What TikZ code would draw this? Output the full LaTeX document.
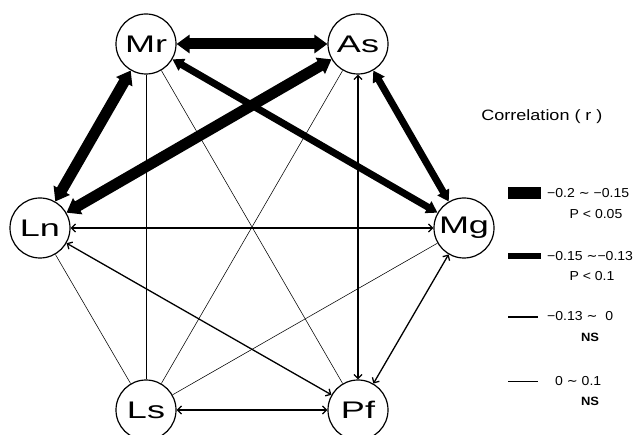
\documentclass[tikz,border=0pt]{standalone}
\usepackage{fontspec}
\setmainfont{Liberation Sans}
\newfontfamily\nodefont[FakeStretch=1.5]{Liberation Sans}
\newfontfamily\legfont[FakeStretch=1.2]{Liberation Sans}
\newfontfamily\numfont[FakeStretch=1.08]{Liberation Sans}
\newfontfamily\tildefont{DejaVu Sans}
\newcommand\tld{{\tildefont ∼}}
\usetikzlibrary{arrows.meta}
\begin{document}
\begin{tikzpicture}[x=1pt,y=-1pt,
  var/.style={circle,draw,line width=1.2pt,minimum size=60pt,inner sep=0pt,font=\nodefont\fontsize{24}{24}\selectfont},
  thickE/.style={line width=11pt,{Triangle[length=13pt,width=18pt]}-{Triangle[length=13pt,width=18pt]}},
  medE/.style={line width=7pt,{Triangle[length=11pt,width=13pt]}-{Triangle[length=11pt,width=13pt]}},
  arrE/.style={line width=1.3pt,{Straight Barb[length=4pt,width=8pt]}-{Straight Barb[length=4pt,width=8pt]}},
  thinE/.style={line width=0.55pt},
  leg/.style={anchor=west,inner sep=0pt,font=\numfont\fontsize{13}{13}\selectfont},
  legc/.style={inner sep=0pt,font=\numfont\fontsize{13}{13}\selectfont}
]
\useasboundingbox (0,0) rectangle (637,435);
% nodes
\node[var] (Mr) at (146,44) {Mr};
\node[var] (As) at (358,44) {As};
\node[var] (Ln) at (40,228) {Ln};
\node[var] (Mg) at (464,228) {Mg};
\node[var] (Ls) at (146,410) {Ls};
\node[var] (Pf) at (358,410) {Pf};
% thin lines (0 ~ 0.1)
\draw[thinE] (Mr) -- (Ls);
\draw[thinE] (Mr) -- (Pf);
\draw[thinE] (As) -- (Ls);
\draw[thinE] (Ln) -- (Ls);
\draw[thinE] (Ls) -- (Mg);
% arrows (-0.13 ~ 0)
\draw[arrE] (Ln) -- (Mg);
\draw[arrE] (Ln) -- (Pf);
\draw[arrE] (As) -- (Pf);
\draw[arrE] (Mg) -- (Pf);
\draw[arrE] (Ls) -- (Pf);
% medium (-0.15 ~ -0.13)
\draw[medE] (Mr) -- (Mg);
\draw[medE] (As) -- (Mg);
% thick (-0.2 ~ -0.15)
\draw[thickE] (Mr) -- (As);
\draw[thickE] (Mr) -- (Ln);
\draw[thickE] (As) -- (Ln);
% legend
\node[inner sep=0pt,font=\legfont\fontsize{15}{15}\selectfont] (title) at (542,117) {Correlation ( r )};
\fill (508,187) rectangle (541,199);
\node[leg] (l1) at (547,193) {−0.2 \tld{} −0.15};
\node[legc] (p1) at (596,214) {P < 0.05};
\fill (508,253) rectangle (541,259);
\node[leg] (l2) at (547,256) {−0.15 \tld{}−0.13};
\node[legc] (p2) at (592,276) {P < 0.1};
\draw[line width=2pt] (508,317) -- (538,317);
\node[leg] (l3) at (547,316) {−0.13 \tld{}\ \ 0};
\node[legc,font=\numfont\bfseries\fontsize{12}{12}\selectfont] (n3) at (590,337) {NS};
\draw[line width=0.8pt] (508,381) -- (538,381);
\node[leg] (l4) at (555,381) {0 \tld{} 0.1};
\node[legc,font=\numfont\bfseries\fontsize{12}{12}\selectfont] (n4) at (590,401) {NS};
\end{tikzpicture}
\end{document}
